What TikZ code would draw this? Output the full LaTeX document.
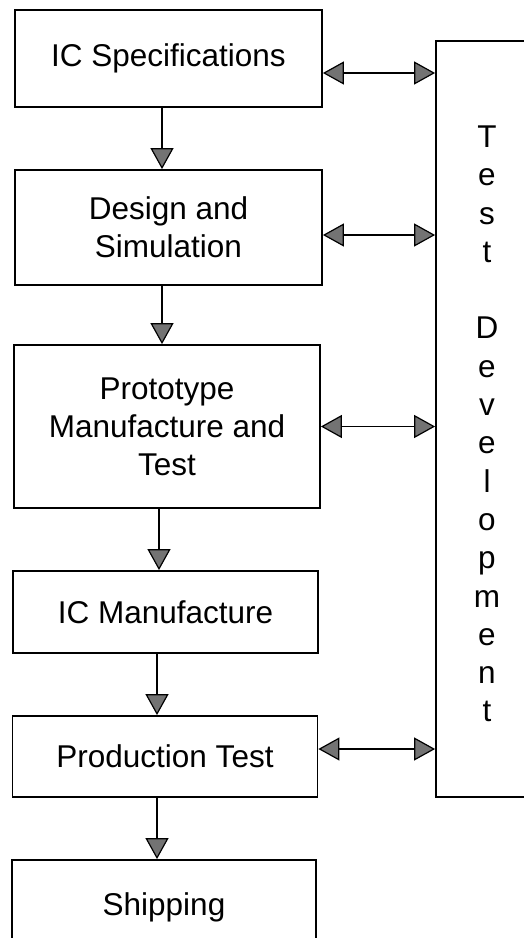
\documentclass[tikz,border=0pt]{standalone}
\usepackage{fontspec}
\setmainfont{Liberation Sans}
\usetikzlibrary{arrows.meta}
\tikzset{
  x=1pt, y=-1pt,
  stage/.style={draw, line width=1.8pt, align=center, inner sep=0pt,
    font=\fontsize{31.5}{38}\selectfont},
  headtip/.tip={Triangle[length=21pt, width=23pt, fill=black!55, line width=1.2pt]},
  flow/.style={line width=1.8pt, -headtip},
  link/.style={line width=1.8pt, headtip-headtip},
}
\begin{document}
\begin{tikzpicture}
  \useasboundingbox (0,0) rectangle (524,938);
  \clip (0,0) rectangle (524,938);
  \fill[white] (0,0) rectangle (524,938);

  % process stages
  \node[stage, minimum width=307pt, minimum height=97pt]  (spec)  at (168.5,58.5) {IC Specifications};
  \node[stage, minimum width=307pt, minimum height=115pt] (design) at (168.5,227.5) {Design and\\Simulation};
  \node[stage, minimum width=306pt, minimum height=163pt] (proto) at (167,426.5) {Prototype\\Manufacture and\\Test};
  \node[stage, minimum width=305pt, minimum height=82pt]  (manuf) at (165.5,612) {IC Manufacture};
  \node[stage, minimum width=305pt, minimum height=81pt]  (prod)  at (165,756.5) {Production Test};
  \node[stage, minimum width=304pt, minimum height=94pt]  (ship)  at (164,907) {Shipping};

  % test development column
  \node[stage, minimum width=124pt, minimum height=756pt] (testdev) at (498,419) {};
  \node[font=\fontsize{31.5}{38.3}\selectfont, align=center, inner sep=0pt] (tdlabel) at (487,424)
    {T\\e\\s\\t\\[38.3pt]D\\e\\v\\e\\l\\o\\p\\m\\e\\n\\t};

  % main flow
  \draw[flow] ([xshift=-6.5pt]spec.south)   -- ([xshift=-6.5pt]spec.south   |- design.north);
  \draw[flow] ([xshift=-6.5pt]design.south) -- ([xshift=-6.5pt]design.south |- proto.north);
  \draw[flow] ([xshift=-8pt]proto.south)    -- ([xshift=-8pt]proto.south    |- manuf.north);
  \draw[flow] ([xshift=-8.5pt]manuf.south)  -- ([xshift=-8.5pt]manuf.south  |- prod.north);
  \draw[flow] ([xshift=-8pt]prod.south)     -- ([xshift=-8pt]prod.south     |- ship.north);

  % links to test development
  \coordinate (l1) at ([yshift=-14.5pt]spec.east);
  \coordinate (l2) at ([yshift=-7.5pt]design.east);
  \coordinate (l3) at (proto.east);
  \coordinate (l4) at ([yshift=7.5pt]prod.east);
  \draw[link] (l1) -- (testdev.west |- l1);
  \draw[link] (l2) -- (testdev.west |- l2);
  \draw[link] (l3) -- (testdev.west |- l3);
  \draw[link] (l4) -- (testdev.west |- l4);
\end{tikzpicture}
\end{document}
